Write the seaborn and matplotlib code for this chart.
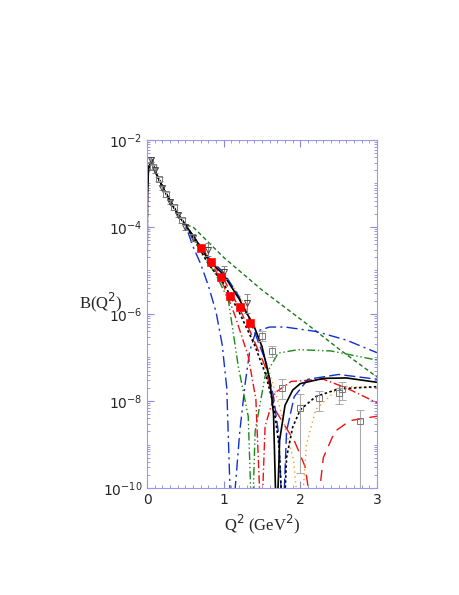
import numpy as np
import pandas as pd
import seaborn as sns
import matplotlib
matplotlib.use("Agg")
import matplotlib.pyplot as plt
from matplotlib.ticker import LogLocator, FixedLocator, NullFormatter

# shared low-Q2 trunk (Q2, log10 B)
trunk_q = [0.0005, 0.005, 0.02, 0.06, 0.1, 0.2, 0.3, 0.4, 0.5]
trunk_l = [-5.5, -3.2, -2.65, -2.45, -2.7, -3.07, -3.4, -3.7, -3.95]

black_solid_q = [0.6, 0.8, 1.0, 1.2, 1.4, 1.5, 1.6, 1.65, 1.69, 1.73, 1.8, 1.9, 2.0, 2.3, 2.6, 3.0]
black_solid_l = [-4.2, -4.75, -5.1, -5.65, -6.3, -6.75, -7.5, -8.3, -11, -8.9, -8.1, -7.75, -7.6, -7.48, -7.47, -7.57]

black_dot_q = [0.6, 0.8, 1.0, 1.2, 1.4, 1.55, 1.65, 1.72, 1.78, 1.82, 1.9, 2.0, 2.2, 2.5, 3.0]
black_dot_l = [-4.25, -4.85, -5.3, -5.95, -6.7, -7.4, -8.1, -9.0, -11, -9.3, -8.6, -8.2, -7.9, -7.72, -7.67]

green_dash_q = [0.6, 0.8, 1.0, 1.2, 1.5, 1.8, 2.1, 2.5, 3.0]
green_dash_l = [-4.0, -4.35, -4.7, -5.0, -5.45, -5.85, -6.25, -6.8, -7.45]

blue_dd_q = [0.6, 0.7, 0.8, 0.9, 0.98, 1.04, 1.1, 1.16, 1.21, 1.28, 1.34, 1.42, 1.6, 1.8, 2.2, 2.6, 3.0]
blue_dd_l = [-4.45, -4.85, -5.35, -5.95, -6.7, -7.7, -11, -9.8, -8.7, -7.6, -6.85, -6.4, -6.3, -6.3, -6.4, -6.6, -6.89]

green_ddd_q = [0.6, 0.7, 0.9, 1.06, 1.19, 1.32, 1.37, 1.41, 1.54, 1.71, 1.97, 2.4, 3.0]
green_ddd_l = [-4.25, -4.55, -5.1, -5.67, -7.2, -8.35, -11, -8.7, -7.43, -6.9, -6.82, -6.85, -7.06]

red_dd_q = [0.6, 0.8, 1.0, 1.15, 1.32, 1.42, 1.49, 1.54, 1.67, 1.88, 2.3, 2.6, 3.0]
red_dd_l = [-4.2, -4.7, -5.35, -6.05, -6.97, -7.96, -11, -8.58, -7.81, -7.55, -7.5, -7.7, -8.04]

red_dash_q = [0.6, 0.8, 1.0, 1.2, 1.32, 1.54, 1.67, 1.93, 2.06, 2.19, 2.3, 2.45, 2.65, 3.0]
red_dash_l = [-4.2, -4.7, -5.2, -5.85, -6.3, -7.2, -8.2, -8.95, -9.5, -11, -9.3, -8.7, -8.45, -8.35]

orange_q = [0.6, 0.8, 1.0, 1.2, 1.32, 1.54, 1.74, 1.91, 2.0, 2.08, 2.2, 2.52, 3.0]
orange_l = [-4.2, -4.7, -5.1, -5.55, -5.97, -7.0, -8.2, -9.34, -11, -9.0, -8.2, -7.66, -7.7]

blue_dash_q = [0.6, 0.8, 1.0, 1.2, 1.4, 1.55, 1.65, 1.72, 1.77, 1.82, 1.92, 2.1, 2.5, 3.0]
blue_dash_l = [-4.2, -4.7, -5.05, -5.6, -6.4, -7.1, -7.9, -8.8, -11, -8.7, -7.9, -7.5, -7.39, -7.5]

# data
red_sq_q = [0.70, 0.83, 0.96, 1.08, 1.21, 1.34]
red_sq_l = [-4.48, -4.81, -5.15, -5.59, -5.85, -6.20]
tri_q = [0.05, 0.1, 0.2, 0.3, 0.4, 0.5, 0.6, 0.80, 1.01, 1.30]
tri_l = [-2.45, -2.7, -3.1, -3.42, -3.72, -4.0, -4.25, -4.52, -5.04, -5.75]
tri_err = [0.05, 0.05, 0.05, 0.05, 0.05, 0.06, 0.08, 0.15, 0.15, 0.22]
sq_q = [0.04, 0.08, 0.15, 0.25, 0.35, 0.45, 1.50, 1.63, 1.76, 1.99, 2.24, 2.50, 2.54, 2.78]
sq_l = [-2.45, -2.62, -2.9, -3.25, -3.55, -3.85, -6.50, -6.86, -7.70, -8.15, -7.92, -7.81, -7.72, -8.46]
sq_lo = [0.05, 0.05, 0.05, 0.05, 0.05, 0.05, 0.12, 0.12, 0.25, 1.5, 0.3, 0.25, 0.25, 2.5]
sq_hi = [0.05, 0.05, 0.05, 0.05, 0.05, 0.05, 0.12, 0.12, 0.2, 0.3, 0.15, 0.1, 0.15, 0.25]

sns.set_style("ticks")
fig = plt.figure(figsize=(4.6, 5.95), dpi=100)
ax = fig.add_axes([0.3196, 0.1798, 0.5, 0.585])

def curve(q, l, color, dashes, lw=1.0):
    qq = trunk_q + q
    ll = trunk_l + l
    df = pd.DataFrame({"q": qq, "B": np.power(10.0, ll)})
    sns.lineplot(data=df, x="q", y="B", ax=ax, color=color, lw=lw, sort=False,
                 estimator=None, dashes=False, linestyle=(0, dashes) if dashes else "-")

curve(green_dash_q, green_dash_l, "#1a7a1a", (3, 2))
curve(blue_dd_q, blue_dd_l, "#1030d0", (8, 3, 1.5, 3))
curve(green_ddd_q, green_ddd_l, "#1a8a1a", (6, 2, 1, 2, 1, 2))
curve(red_dd_q, red_dd_l, "#ee1111", (6, 2, 1, 2))
curve(red_dash_q, red_dash_l, "#ee1111", (8, 5))
curve(orange_q, orange_l, "#ff9922", (1, 2.5))
curve(blue_dash_q, blue_dash_l, "#1030d0", (8, 3))
curve(black_dot_q, black_dot_l, "black", (1.5, 1.5), lw=1.2)
curve(black_solid_q, black_solid_l, "black", None, lw=1.2)

sq_B = np.power(10.0, sq_l)
yerr = [sq_B - np.power(10.0, np.array(sq_l) - np.array(sq_lo)),
        np.power(10.0, np.array(sq_l) + np.array(sq_hi)) - sq_B]
ax.errorbar(sq_q, sq_B, yerr=yerr, fmt="s", mfc="none", mec="#777777", mew=0.7,
            ecolor="#aaaaaa", ms=4.5, capsize=3, lw=0.8)
tri_B = np.power(10.0, tri_l)
ax.errorbar(tri_q, tri_B, yerr=[tri_B - np.power(10.0, np.array(tri_l) - np.array(tri_err)),
            np.power(10.0, np.array(tri_l) + np.array(tri_err)) - tri_B],
            fmt="v", mfc="none", mec="#444444", mew=0.7, ecolor="#888888", ms=5, capsize=2, lw=0.8)
sns.scatterplot(x=red_sq_q, y=np.power(10.0, red_sq_l), ax=ax, marker="s", color="red",
                s=30, edgecolor="red", zorder=5)

ax.set_yscale("log")
ax.set_xlim(0, 3)
ax.set_ylim(1e-10, 1e-2)
ax.xaxis.set_major_locator(FixedLocator([0, 1, 2, 3]))
ax.xaxis.set_minor_locator(FixedLocator(np.arange(0, 3.01, 0.1)))
ax.yaxis.set_major_locator(FixedLocator([1e-10, 1e-8, 1e-6, 1e-4, 1e-2]))
ax.yaxis.set_minor_locator(LogLocator(base=10, subs=np.arange(1, 10), numticks=30))
ax.yaxis.set_minor_formatter(NullFormatter())
ax.set_yticklabels([r"10$^{-10}$", r"10$^{-8}$", r"10$^{-6}$", r"10$^{-4}$", r"10$^{-2}$"])
ax.tick_params(which="both", direction="in", top=True, right=True, color="#8888dd",
               labelsize=10)
ax.tick_params(which="major", length=5)
ax.tick_params(which="minor", length=2.5)
for s in ax.spines.values():
    s.set_color("#9999ee")
    s.set_linewidth(0.8)
ax.set_xlabel(r"Q$^2$ (GeV$^2$)", family="Liberation Serif", fontsize=12)
ax.set_ylabel(r"B(Q$^2$)", family="Liberation Serif", fontsize=12, rotation=0)
ax.yaxis.set_label_coords(-0.2, 0.5)
fig.savefig("out.png", dpi=100)
